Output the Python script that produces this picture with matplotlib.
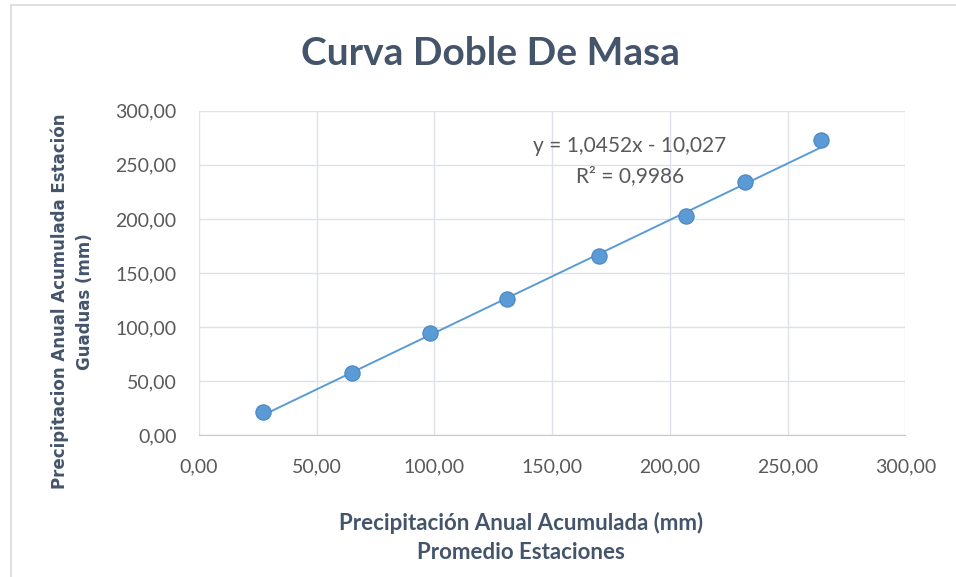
import numpy as np
import matplotlib
matplotlib.use('Agg')
from matplotlib import pyplot as plt
from matplotlib.patches import Rectangle
from matplotlib.ticker import FuncFormatter, MultipleLocator

# accumulated annual precipitation: station average vs Guaduas station
promedio = [27.2, 65.0, 98.2, 130.9, 170.0, 207.0, 232.0, 264.3]
guaduas = [21.3, 57.4, 94.4, 125.9, 165.7, 202.8, 234.3, 273.1]
pendiente = 1.0452
intercepto = -10.027
r2 = 0.9986

AZUL = '#5B9BD5'
PIZARRA = '#44546A'
GRIS = '#595959'
FUENTE = ['Lato', 'DejaVu Sans']

fig = plt.figure(figsize=(9.56, 5.77), dpi=100)
fig.patches.append(Rectangle((0.011, -0.01), 1.0, 1.002, transform=fig.transFigure,
                             fill=False, edgecolor='#D9D9D9', linewidth=1.2))
ax = fig.add_axes([0.208, 0.246, 0.739, 0.562])

# trendline from the fitted equation
xs = np.array([min(promedio), max(promedio)])
ax.plot(xs, pendiente * xs + intercepto, color=AZUL, linewidth=1.4, zorder=2)
ax.plot(promedio, guaduas, 'o', color=AZUL, markersize=11,
        markeredgecolor='#4A86C0', markeredgewidth=0.8, zorder=3)

ax.set_xlim(0, 300)
ax.set_ylim(0, 300)
ax.xaxis.set_major_locator(MultipleLocator(50))
ax.yaxis.set_major_locator(MultipleLocator(50))
fmt = FuncFormatter(lambda v, p: f'{v:.2f}'.replace('.', ','))
ax.xaxis.set_major_formatter(fmt)
ax.yaxis.set_major_formatter(fmt)
ax.grid(True, color='#DEE2E8', linewidth=1)
ax.set_axisbelow(True)
for s in ['top', 'right', 'left']:
    ax.spines[s].set_visible(False)
ax.spines['bottom'].set_color('#C3CAD4')
ax.tick_params(length=0, labelsize=14, labelcolor=GRIS)
ax.tick_params(axis='x', pad=17)
ax.tick_params(axis='y', pad=16)
for lbl in ax.get_xticklabels() + ax.get_yticklabels():
    lbl.set_family(FUENTE)

ax.text(183, 267, f'y = {pendiente:.4f}x - {abs(intercepto):.3f}'.replace('.', ','),
        ha='center', va='center', fontsize=15, color=GRIS, family=FUENTE)
ax.text(183, 240, f'R² = {r2:.4f}'.replace('.', ','),
        ha='center', va='center', fontsize=15, color=GRIS, family=FUENTE)

fig.text(0.513, 0.908, 'Curva Doble De Masa', ha='center', va='center',
         fontsize=28, fontweight='bold', color=PIZARRA, family=FUENTE)
fig.text(0.545, 0.093, 'Precipitación Anual Acumulada (mm)', ha='center', va='center',
         fontsize=16, fontweight='bold', color=PIZARRA, family=FUENTE)
fig.text(0.545, 0.043, 'Promedio Estaciones', ha='center', va='center',
         fontsize=16, fontweight='bold', color=PIZARRA, family=FUENTE)
fig.text(0.076, 0.478, 'Precipitacion Anual Acumulada Estación\nGuaduas (mm)',
         ha='center', va='center', rotation=90, fontsize=12, fontweight='bold',
         color=PIZARRA, linespacing=1.5)

fig.savefig('out.png', dpi=100)
